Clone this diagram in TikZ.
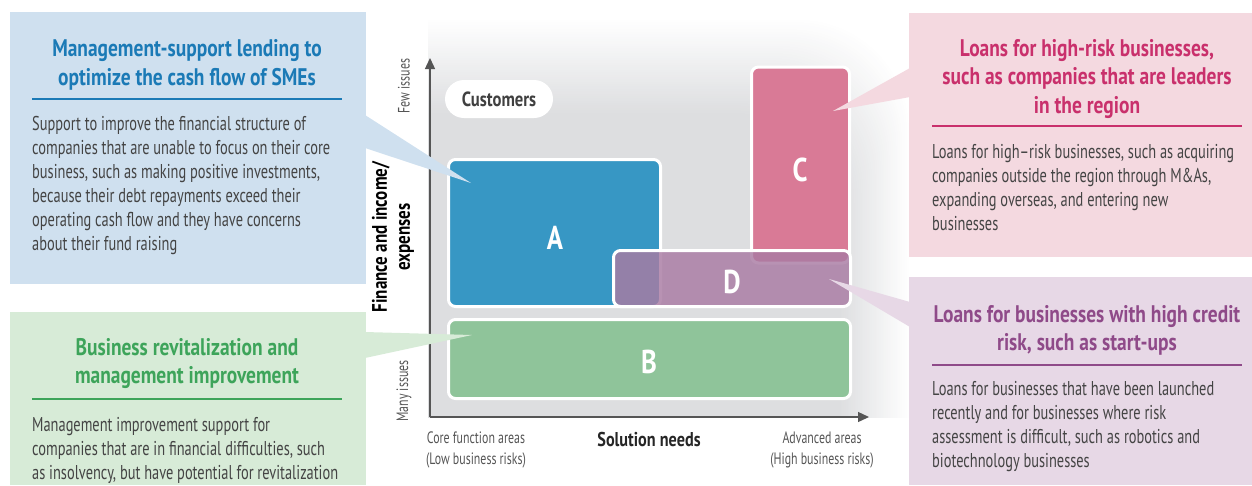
\documentclass[tikz,border=0pt]{standalone}
\usepackage{fontspec}
\setmainfont{PT Sans}[FakeStretch=0.72]
\newfontfamily\titlefont{PT Sans Bold}[FakeStretch=0.81]
\usetikzlibrary{arrows.meta}
\definecolor{bluebox}{HTML}{CFE0EF}
\definecolor{bluetitle}{HTML}{1B7AB6}
\definecolor{greenbox}{HTML}{D7EBD7}
\definecolor{greentitle}{HTML}{3DA45A}
\definecolor{pinkbox}{HTML}{F4D9E0}
\definecolor{pinktitle}{HTML}{C9306C}
\definecolor{purplebox}{HTML}{E7D8E6}
\definecolor{purpletitle}{HTML}{8F4A89}
\definecolor{bodytext}{HTML}{444444}
\definecolor{boxA}{HTML}{3797C4}
\definecolor{boxB}{HTML}{8FC49A}
\definecolor{boxC}{HTML}{D97A96}
\definecolor{boxD}{HTML}{A97BA3}
\definecolor{chartgray}{HTML}{DDDEE0}
\definecolor{axisgray}{HTML}{555555}
\begin{document}
\begin{tikzpicture}[x=1pt,y=-1pt,
  panel/.style={inner sep=0pt, anchor=north west, minimum width=#1},
  ttl/.style={inner sep=0pt, anchor=base, align=center, font=\titlefont\fontsize{24}{28.5}\selectfont},
  body/.style={inner sep=0pt, anchor=base west, align=left, text=bodytext, font=\fontsize{20}{24}\selectfont},
  rulestyle/.style={line width=1.2pt},
  chartbox/.style={draw=white, line width=3pt, rounded corners=7pt},
  letter/.style={text=white, font=\titlefont\fontsize{33}{33}\selectfont},
  axislbl/.style={text=axisgray, font=\fontsize{16.5}{21}\selectfont, align=center, inner sep=0pt},
  axisline/.style={draw=axisgray, line width=1.3pt, -{Triangle[length=11pt,width=10pt]}}
]
\useasboundingbox (0,0) rectangle (1252,485);

% chart background: soft fade towards the top and the right
\begin{scope}
  \clip (428,18) rectangle (912,417);
  \foreach \i in {0,...,40} {
    \pgfmathsetmacro\t{\i/40}
    \pgfmathsetmacro\p{100*\t}
    \fill[chartgray!\p!white, rounded corners=110pt] (300,{18+95*\t}) rectangle ({910-70*\t},540);
  }
\end{scope}

% axes
\coordinate (origin) at (430,417);
\coordinate (ytip) at (430,58);
\coordinate (xtip) at (869,417);
\draw[axisline] (origin) -- (ytip);
\draw[axisline] (origin) -- (xtip);

% axis labels
\node[axislbl, rotate=90] (few) at (404,86) {Few issues};
\node[axislbl, rotate=90] (many) at (404,391) {Many issues};
\node[rotate=90, inner sep=0pt, align=center, text=black, font=\titlefont\fontsize{21}{23}\selectfont] (fin) at (393,237) {Finance and income/\\expenses};
\node[axislbl, anchor=base] (core) at (476,464) {Core function areas\\(Low business risks)};
\node[axislbl, anchor=base] (adv) at (822,464) {Advanced areas\\(High business risks)};
\node[inner sep=0pt, anchor=base, text=black!85, font=\titlefont\fontsize{20}{24}\selectfont] (sol) at (649,446) {Solution needs};

% customers pill
\node[fill=white, rounded corners=19pt, minimum width=108pt, minimum height=38pt, inner sep=0pt, text=black!75, font=\titlefont\fontsize{20.5}{20.5}\selectfont] (cust) at (499,99) {Customers};

% chart boxes
\path[chartbox, fill=boxA] (448.5,159.5) rectangle (660.5,306.5);
\path[chartbox, fill=boxB] (448.5,319.5) rectangle (850.5,398.5);
\path[chartbox, fill=boxC] (751.5,67) rectangle (849.5,263);
\path[chartbox, fill=boxD, fill opacity=0.82] (613.5,250.5) rectangle (850.5,306.5);
\node[letter] (A) at (555,238) {A};
\node[letter] (B) at (649,362) {B};
\node[letter] (C) at (800,170) {C};
\node[letter] (D) at (732,282) {D};

% tips of the pointers
\coordinate (tipA) at (471,183);
\coordinate (tipB) at (472,335);
\coordinate (tipC) at (833,111);
\coordinate (tipD) at (829,279);

% blue panel
\node[panel=356pt, minimum height=272pt, fill=bluebox] (bluepanel) at (10,12) {};
\fill[bluebox] (365,115) -- (tipA) -- (365,148) -- cycle;
\node[ttl, text=bluetitle] (bluettl) at (187,85) {Management-support lending to\\optimize the cash flow of SMEs};
\draw[rulestyle, bluetitle] (32,99) -- (342,99);
\node[body] (bluebody) at (32,250) {Support to improve the financial structure of\\companies that are unable to focus on their core\\business, such as making positive investments,\\because their debt repayments exceed their\\operating cash flow and they have concerns\\about their fund raising};

% green panel
\node[panel=356pt, minimum height=173pt, fill=greenbox] (greenpanel) at (10,312) {};
\fill[greenbox] (365,332) -- (tipB) -- (365,358) -- cycle;
\node[ttl, text=greentitle] (greenttl) at (187,383.5) {Business revitalization and\\management improvement};
\draw[rulestyle, greentitle] (32,399) -- (342,399);
\node[body] (greenbody) at (32,479) {Management improvement support for\\companies that are in financial difficulties, such\\as insolvency, but have potential for revitalization};

% pink panel
\node[panel=343pt, minimum height=244pt, fill=pinkbox] (pinkpanel) at (909,13) {};
\fill[pinkbox] (910,68) -- (tipC) -- (910,97) -- cycle;
\node[ttl, text=pinktitle] (pinkttl) at (1087,113) {Loans for high-risk businesses,\\such as companies that are leaders\\in the region};
\draw[rulestyle, pinktitle] (932,126) -- (1242,126);
\node[body] (pinkbody) at (932,230) {Loans for high–risk businesses, such as acquiring\\companies outside the region through M\&As,\\expanding overseas, and entering new\\businesses};

% purple panel
\node[panel=343pt, minimum height=208pt, fill=purplebox] (purplepanel) at (909,277) {};
\fill[purplebox] (910,302) -- (tipD) -- (910,327) -- cycle;
\node[ttl, text=purpletitle] (purplettl) at (1087,350.5) {Loans for businesses with high credit\\risk, such as start-ups};
\draw[rulestyle, purpletitle] (932,365) -- (1242,365);
\node[body] (purplebody) at (932,467) {Loans for businesses that have been launched\\recently and for businesses where risk\\assessment is difficult, such as robotics and\\biotechnology businesses};
\end{tikzpicture}
\end{document}
